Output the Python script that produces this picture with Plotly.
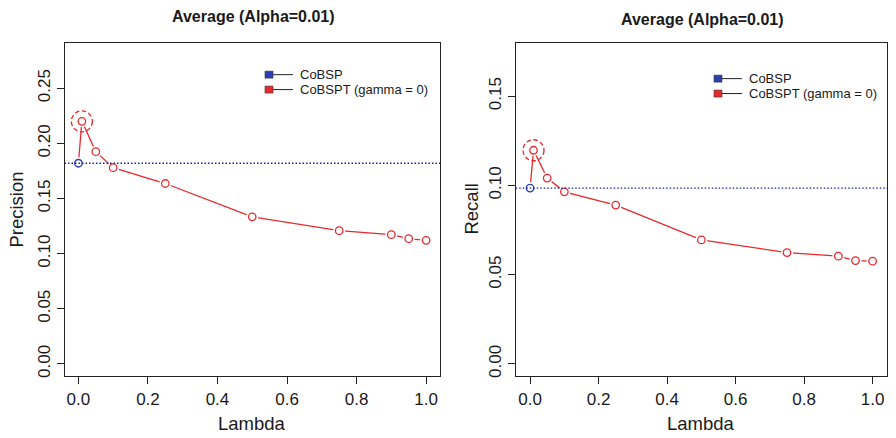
import numpy as np
import plotly.graph_objects as go

# ---------------- data ----------------
lambdas = [0.0, 0.01, 0.05, 0.1, 0.25, 0.5, 0.75, 0.9, 0.95, 1.0]
precision_cobspt = [0.182, 0.220, 0.1925, 0.178, 0.1636, 0.1334, 0.1208, 0.1172, 0.1136, 0.1121]
precision_cobsp = 0.182
recall_cobspt = [0.0985, 0.1197, 0.1041, 0.0964, 0.0890, 0.0695, 0.0624, 0.0604, 0.0579, 0.0576]
recall_cobsp = 0.0985

x_ticks = [0.0, 0.2, 0.4, 0.6, 0.8, 1.0]
precision_ticks = [0.00, 0.05, 0.10, 0.15, 0.20, 0.25]
recall_ticks = [0.00, 0.05, 0.10, 0.15]

panel_title = "Average (Alpha=0.01)"
x_label = "Lambda"
y_labels = ["Precision", "Recall"]
legend_labels = ["CoBSP", "CoBSPT (gamma = 0)"]

# ---------------- style ----------------
W, H = 896, 438
RED = "#E8282C"
BLUE = "#2A3FB0"
DOTBLUE = "#1526A0"
FONT = "Liberation Sans, Arial, Helvetica, sans-serif"
TXT = "#1a1a1a"

def px(x):
    return x / W

def py(y):
    return 1 - y / H

fig = go.Figure()

panels = [
    dict(xa="x", ya="y", vals=precision_cobspt, base=precision_cobsp,
         xdom=[px(64.5), px(440)], yrange=[-0.0112, 0.2912], ticks=precision_ticks,
         ylab=y_labels[0], ylab_x=17, title_x=253, title_y=17,
         leg_x=265, leg_y=[75, 90]),
    dict(xa="x2", ya="y2", vals=recall_cobspt, base=recall_cobsp,
         xdom=[px(515.7), px(887)], yrange=[-0.0069, 0.1799], ticks=recall_ticks,
         ylab=y_labels[1], ylab_x=472, title_x=702, title_y=20,
         leg_x=714, leg_y=[79, 94]),
]

ydom = [py(378), py(43)]
shapes = []
annotations = []

for i, p in enumerate(panels):
    xa, ya = p["xa"], p["ya"]
    vals = p["vals"]
    # red connecting line
    fig.add_trace(go.Scatter(x=lambdas, y=vals, mode="lines", xaxis=xa, yaxis=ya,
                             line=dict(color=RED, width=1.3), showlegend=False,
                             hoverinfo="skip"))
    # white masks to create R type="b" gaps
    fig.add_trace(go.Scatter(x=lambdas, y=vals, mode="markers", xaxis=xa, yaxis=ya,
                             marker=dict(size=12, color="white", line=dict(width=0)),
                             showlegend=False, hoverinfo="skip"))
    # red open points
    fig.add_trace(go.Scatter(x=lambdas[1:], y=vals[1:], mode="markers", xaxis=xa, yaxis=ya,
                             marker=dict(size=7.5, color="white", symbol="circle",
                                         line=dict(color=RED, width=1.3)),
                             showlegend=False))
    # blue CoBSP point
    fig.add_trace(go.Scatter(x=[lambdas[0]], y=[p["base"]], mode="markers", xaxis=xa, yaxis=ya,
                             marker=dict(size=7.5, color="rgba(255,255,255,0)", symbol="circle",
                                         line=dict(color=BLUE, width=1.4)),
                             showlegend=False))
    # dotted baseline
    dom_ref = xa + " domain"
    shapes.append(dict(type="line", xref=dom_ref, yref=ya, x0=0, x1=1,
                       y0=p["base"], y1=p["base"],
                       line=dict(color=DOTBLUE, width=1.4, dash="1.5px,2px"), layer="above"))
    # dashed circle around max
    k = int(np.argmax(vals))
    shapes.append(dict(type="circle", xref=xa, yref=ya, xsizemode="pixel", ysizemode="pixel",
                       xanchor=lambdas[k], yanchor=vals[k], x0=-10.5, x1=10.5, y0=-10.5, y1=10.5,
                       line=dict(color=RED, width=1.3, dash="4.5px,2.5px")))
    # title
    annotations.append(dict(text="<b>%s</b>" % panel_title, xref="paper", yref="paper",
                            x=px(p["title_x"]), y=py(p["title_y"]), showarrow=False,
                            xanchor="center", yanchor="middle",
                            font=dict(family=FONT, size=16, color=TXT)))
    # axis titles
    annotations.append(dict(text=x_label, xref="paper", yref="paper",
                            x=(p["xdom"][0] + p["xdom"][1]) / 2, y=py(425), showarrow=False,
                            xanchor="center", yanchor="middle",
                            font=dict(family=FONT, size=18.5, color=TXT)))
    annotations.append(dict(text=p["ylab"], xref="paper", yref="paper",
                            x=px(p["ylab_x"]), y=(ydom[0] + ydom[1]) / 2, showarrow=False,
                            textangle=-90, xanchor="center", yanchor="middle",
                            font=dict(family=FONT, size=18.5, color=TXT)))
    # legend
    colors = [BLUE, RED]
    for j, lab in enumerate(legend_labels):
        lx, ly = p["leg_x"], p["leg_y"][j]
        shapes.append(dict(type="line", xref="paper", yref="paper",
                           x0=px(lx + 8), x1=px(lx + 28), y0=py(ly), y1=py(ly),
                           line=dict(color="#222222", width=1)))
        shapes.append(dict(type="rect", xref="paper", yref="paper",
                           x0=px(lx), x1=px(lx + 8), y0=py(ly + 3.5), y1=py(ly - 3.5),
                           fillcolor=colors[j], line=dict(color="#333333", width=0.6)))
        annotations.append(dict(text=lab, xref="paper", yref="paper",
                                x=px(lx + 34), y=py(ly), showarrow=False,
                                xanchor="left", yanchor="middle", height=15, borderpad=0,
                                font=dict(family=FONT, size=13, color=TXT)))

axis_common = dict(showline=True, mirror=True, linecolor="#222222", linewidth=1,
                   ticks="outside", ticklen=7, tickwidth=1, tickcolor="#222222",
                   showgrid=False, zeroline=False,
                   tickfont=dict(family=FONT, size=17, color=TXT))

fig.update_layout(
    width=W, height=H,
    margin=dict(l=0, r=0, t=0, b=0),
    paper_bgcolor="white", plot_bgcolor="white",
    showlegend=False,
    shapes=shapes, annotations=annotations,
    xaxis=dict(domain=panels[0]["xdom"], range=[-0.04, 1.04], tickvals=x_ticks,
               tickformat=".1f", anchor="y", **axis_common),
    yaxis=dict(domain=ydom, range=panels[0]["yrange"], tickvals=panels[0]["ticks"],
               tickformat=".2f", tickangle=-90, anchor="x", **axis_common),
    xaxis2=dict(domain=panels[1]["xdom"], range=[-0.042, 1.042], tickvals=x_ticks,
                tickformat=".1f", anchor="y2", **axis_common),
    yaxis2=dict(domain=ydom, range=panels[1]["yrange"], tickvals=panels[1]["ticks"],
                tickformat=".2f", tickangle=-90, anchor="x2", **axis_common),
)

fig.write_html("out.html")
